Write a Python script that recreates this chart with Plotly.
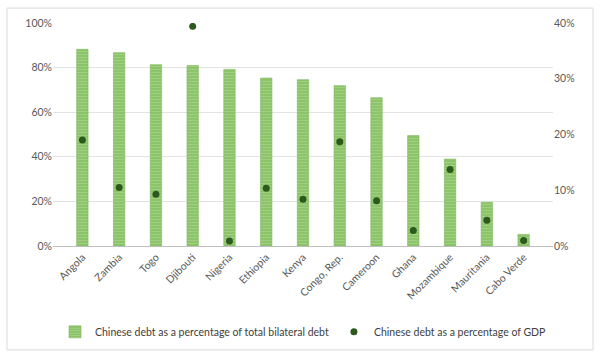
import plotly.graph_objects as go

countries = ["Angola", "Zambia", "Togo", "Djibouti", "Nigeria", "Ethiopia", "Kenya",
             "Congo, Rep.", "Cameroon", "Ghana", "Mozambique", "Mauritania", "Cabo Verde"]
share_bilateral = [88.2, 86.7, 81.3, 80.9, 79.2, 75.3, 74.6, 71.9, 66.5, 49.5, 39.0, 19.6, 5.2]
share_gdp = [19.0, 10.5, 9.3, 39.4, 0.9, 10.35, 8.4, 18.7, 8.1, 2.8, 13.7, 4.6, 1.0]

left_ticks = [0, 20, 40, 60, 80, 100]
right_ticks = [0, 10, 20, 30, 40]

font_family = "Lato, Open Sans, sans-serif"
tick_color = "#595959"

fig = go.Figure()
fig.add_trace(go.Bar(
    x=countries, y=share_bilateral,
    name="Chinese debt as a percentage of total bilateral debt",
    width=0.31,
    marker=dict(color="#8cc46a",
                line=dict(color="#7db65a", width=0.6),
                pattern=dict(shape="-", fgcolor="#b9dca0", bgcolor="#8cc46a",
                             size=3, solidity=0.3)),
    yaxis="y",
))
fig.add_trace(go.Scatter(
    x=countries, y=share_gdp, mode="markers",
    name="Chinese debt as a percentage of GDP",
    marker=dict(color="#2c5a1c", size=7),
    yaxis="y2",
))

fig.update_layout(
    width=602, height=364,
    margin=dict(l=53, r=49, t=23, b=118, autoexpand=False),
    paper_bgcolor="white", plot_bgcolor="white",
    font=dict(family=font_family, size=10, color=tick_color),
    showlegend=True,
    legend=dict(orientation="h", x=0.5, xanchor="center", y=-0.385, yanchor="middle",
                font=dict(size=10.5, color="#404040"), itemwidth=30,
                traceorder="normal"),
    bargap=0.69,
    xaxis=dict(tickangle=-45, showgrid=False, showline=True, linecolor="#bfbfbf",
               linewidth=1, ticks="", automargin=False,
               tickfont=dict(size=10.5, color=tick_color)),
    yaxis=dict(range=[0, 100], tickvals=left_ticks,
               ticktext=[f"{v}%" for v in left_ticks],
               showgrid=True, gridcolor="#e3e3e3", gridwidth=1, zeroline=False,
               showline=False, ticks="", automargin=False,
               tickfont=dict(size=10.5, color=tick_color)),
    yaxis2=dict(range=[0, 40], tickvals=right_ticks,
                ticktext=[f"{v}%" for v in right_ticks],
                overlaying="y", side="right", showgrid=False, zeroline=False,
                showline=False, ticks="", automargin=False,
                tickfont=dict(size=10.5, color=tick_color)),
    shapes=[dict(type="rect", xref="paper", yref="paper",
                 x0=-0.092, x1=1.08, y0=-0.466, y1=1.067,
                 line=dict(color="#d9d9d9", width=1), fillcolor="rgba(0,0,0,0)",
                 layer="below")],
)

fig.write_html("out.html", config={"displayModeBar": False},
               post_script="document.body.style.margin='0px';document.body.style.padding='0px';")
